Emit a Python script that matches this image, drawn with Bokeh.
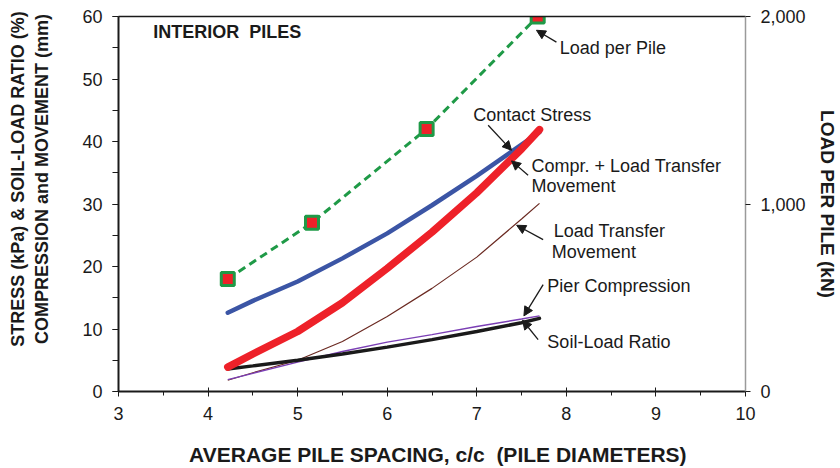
from bokeh.embed import file_html
from bokeh.models import (Arrow, FixedTicker, Label, LinearAxis, NormalHead,
                          NumeralTickFormatter, Range1d, SingleIntervalTicker)
from bokeh.plotting import figure
from bokeh.resources import INLINE

# ---- data -----------------------------------------------------------------
# Load per pile (right axis, kN) at the four pile spacings
load_spacing = [4.22, 5.16, 6.44, 7.68]
load_per_pile = [600, 900, 1400, 2000]

# Curves on the left axis, sampled along the spacing range
curve_spacing = [4.22, 4.5, 5.0, 5.5, 6.0, 6.5, 7.0, 7.5, 7.7]
contact_stress = [12.6, 14.5, 17.6, 21.3, 25.3, 29.8, 34.5, 39.5, 41.5]
compr_load_transfer = [3.9, 6.0, 9.6, 14.2, 19.7, 25.5, 31.8, 38.8, 41.9]
load_transfer_movement = [1.8, 3.0, 5.0, 8.0, 12.0, 16.5, 21.5, 27.6, 30.1]
pier_compression = [1.9, 2.9, 4.7, 6.4, 7.9, 9.1, 10.4, 11.6, 12.1]
soil_load_ratio = [3.6, 4.1, 5.0, 6.0, 7.1, 8.3, 9.6, 11.0, 11.7]

right_ticks = [0, 1000, 2000]

FONT = "Liberation Sans"
BLACK = "#1a1a1a"
NBSP = "\u00a0"

p = figure(width=840, height=468, output_backend="svg", toolbar_location=None,
           x_range=Range1d(3, 10), y_range=Range1d(0, 60),
           min_border_left=118, min_border_right=94, min_border_top=16,
           min_border_bottom=76, x_axis_type=None, y_axis_type=None)
p.extra_y_ranges = {"load": Range1d(0, 2000)}
p.outline_line_color = None
p.background_fill_color = "white"
p.border_fill_color = "white"


def style_ticks(ax):
    ax.major_label_text_font = FONT
    ax.major_label_text_font_size = "18px"
    ax.major_label_text_color = BLACK
    ax.major_tick_line_color = BLACK
    ax.minor_tick_line_color = BLACK
    ax.axis_label_text_font = FONT
    ax.axis_label_text_font_style = "bold"
    ax.axis_label_text_color = BLACK


# ---- axes -----------------------------------------------------------------
xaxis = LinearAxis(ticker=SingleIntervalTicker(interval=1, num_minor_ticks=2))
style_ticks(xaxis)
xaxis.axis_line_width = 2
xaxis.axis_line_color = BLACK
xaxis.major_tick_in = 4
xaxis.major_tick_out = 5
xaxis.minor_tick_in = 0
xaxis.minor_tick_out = 4
xaxis.major_label_standoff = 10
xaxis.axis_label = NBSP * 2 + f"AVERAGE PILE SPACING, c/c {NBSP}(PILE DIAMETERS)"
xaxis.axis_label_text_font_size = "21px"
xaxis.axis_label_standoff = 20
p.add_layout(xaxis, "below")

yaxis = LinearAxis(ticker=SingleIntervalTicker(interval=10, num_minor_ticks=2))
style_ticks(yaxis)
yaxis.axis_line_width = 2
yaxis.axis_line_color = BLACK
yaxis.major_tick_in = 0
yaxis.major_tick_out = 6
yaxis.minor_tick_in = 0
yaxis.minor_tick_out = 6
yaxis.major_label_standoff = 10
# the title block sits a little above the middle of the axis
lead = NBSP * 10
yaxis.axis_label = (lead + "STRESS (kPa) & SOIL-LOAD RATIO (%)\n"
                    + lead + "COMPRESSION and MOVEMENT (mm)")
yaxis.axis_label_text_font_size = "18px"
yaxis.axis_label_standoff = 27
p.add_layout(yaxis, "left")

raxis = LinearAxis(y_range_name="load", ticker=FixedTicker(ticks=right_ticks),
                   formatter=NumeralTickFormatter(format="0,0"))
style_ticks(raxis)
raxis.axis_line_color = "#9a9a9a"
raxis.axis_line_width = 1.5
raxis.major_tick_in = 0
raxis.major_tick_out = 5
raxis.minor_tick_line_color = None
raxis.major_label_standoff = 10
raxis.axis_label = "LOAD PER PILE (kN)"
raxis.axis_label_text_font_size = "19px"
raxis.axis_label_standoff = 8
p.add_layout(raxis, "right")

top_border = LinearAxis(ticker=FixedTicker(ticks=[]))
top_border.axis_line_color = BLACK
top_border.axis_line_width = 1.5
top_border.major_tick_line_color = None
top_border.minor_tick_line_color = None
p.add_layout(top_border, "above")

# dotted grid
for g in (p.xgrid, p.ygrid):
    g.grid_line_color = "#c4c4c4"
    g.grid_line_dash = "1 2"
    g.grid_line_width = 1
p.xgrid.ticker = xaxis.ticker
p.ygrid.ticker = yaxis.ticker

# ---- series ---------------------------------------------------------------
p.line(curve_spacing, load_transfer_movement, line_color="#6b2a22", line_width=1.2)
p.line(curve_spacing, pier_compression, line_color="#7b3fb5", line_width=1.5)
p.line(curve_spacing, soil_load_ratio, line_color=BLACK, line_width=3.5, line_cap="round")
p.line(curve_spacing, contact_stress, line_color="#3b55a5", line_width=4.5, line_cap="round")
p.line(curve_spacing, compr_load_transfer, line_color="#ee2129", line_width=7.5, line_cap="round")

p.line(load_spacing, load_per_pile, y_range_name="load", line_color="#1f9a47",
       line_width=3, line_dash="8 5")
p.scatter(load_spacing, load_per_pile, y_range_name="load", marker="square",
          size=13, fill_color="#ee2129", line_color="#1f9a47", line_width=3)

# ---- annotations ----------------------------------------------------------
def note(x, y, text, size="18px", bold=False, align="left"):
    p.add_layout(Label(x=x, y=y, text=text, text_font=FONT, text_font_size=size,
                       text_font_style="bold" if bold else "normal",
                       text_color=BLACK, text_align=align, text_baseline="middle"))


def pointer(x0, y0, x1, y1):
    p.add_layout(Arrow(end=NormalHead(size=9, fill_color=BLACK, line_color=BLACK),
                       x_start=x0, y_start=y0, x_end=x1, y_end=y1,
                       line_color=BLACK, line_width=1.3))


note(3.387, 57.6, f"INTERIOR{NBSP} PILES", bold=True)

note(7.927, 54.9, "Load per Pile")
pointer(7.889, 55.9, 7.666, 57.8)

note(6.96, 44.3, "Contact Stress")
pointer(7.127, 42.6, 7.388, 38.6)

note(7.611, 36.1, "Compr. + Load Transfer")
note(7.611, 32.9, "Movement")
pointer(7.573, 34.6, 7.388, 36.9)

note(7.86, 25.7, "Load Transfer")
note(7.838, 22.4, "Movement")
pointer(7.741, 24.3, 7.445, 26.6)

note(7.788, 16.9, "Pier Compression")
pointer(7.741, 17.1, 7.526, 12.1)

note(7.788, 7.9, "Soil-Load Ratio")
pointer(7.685, 8.3, 7.511, 11.4)

open("out.html", "w").write(file_html(p, INLINE))
